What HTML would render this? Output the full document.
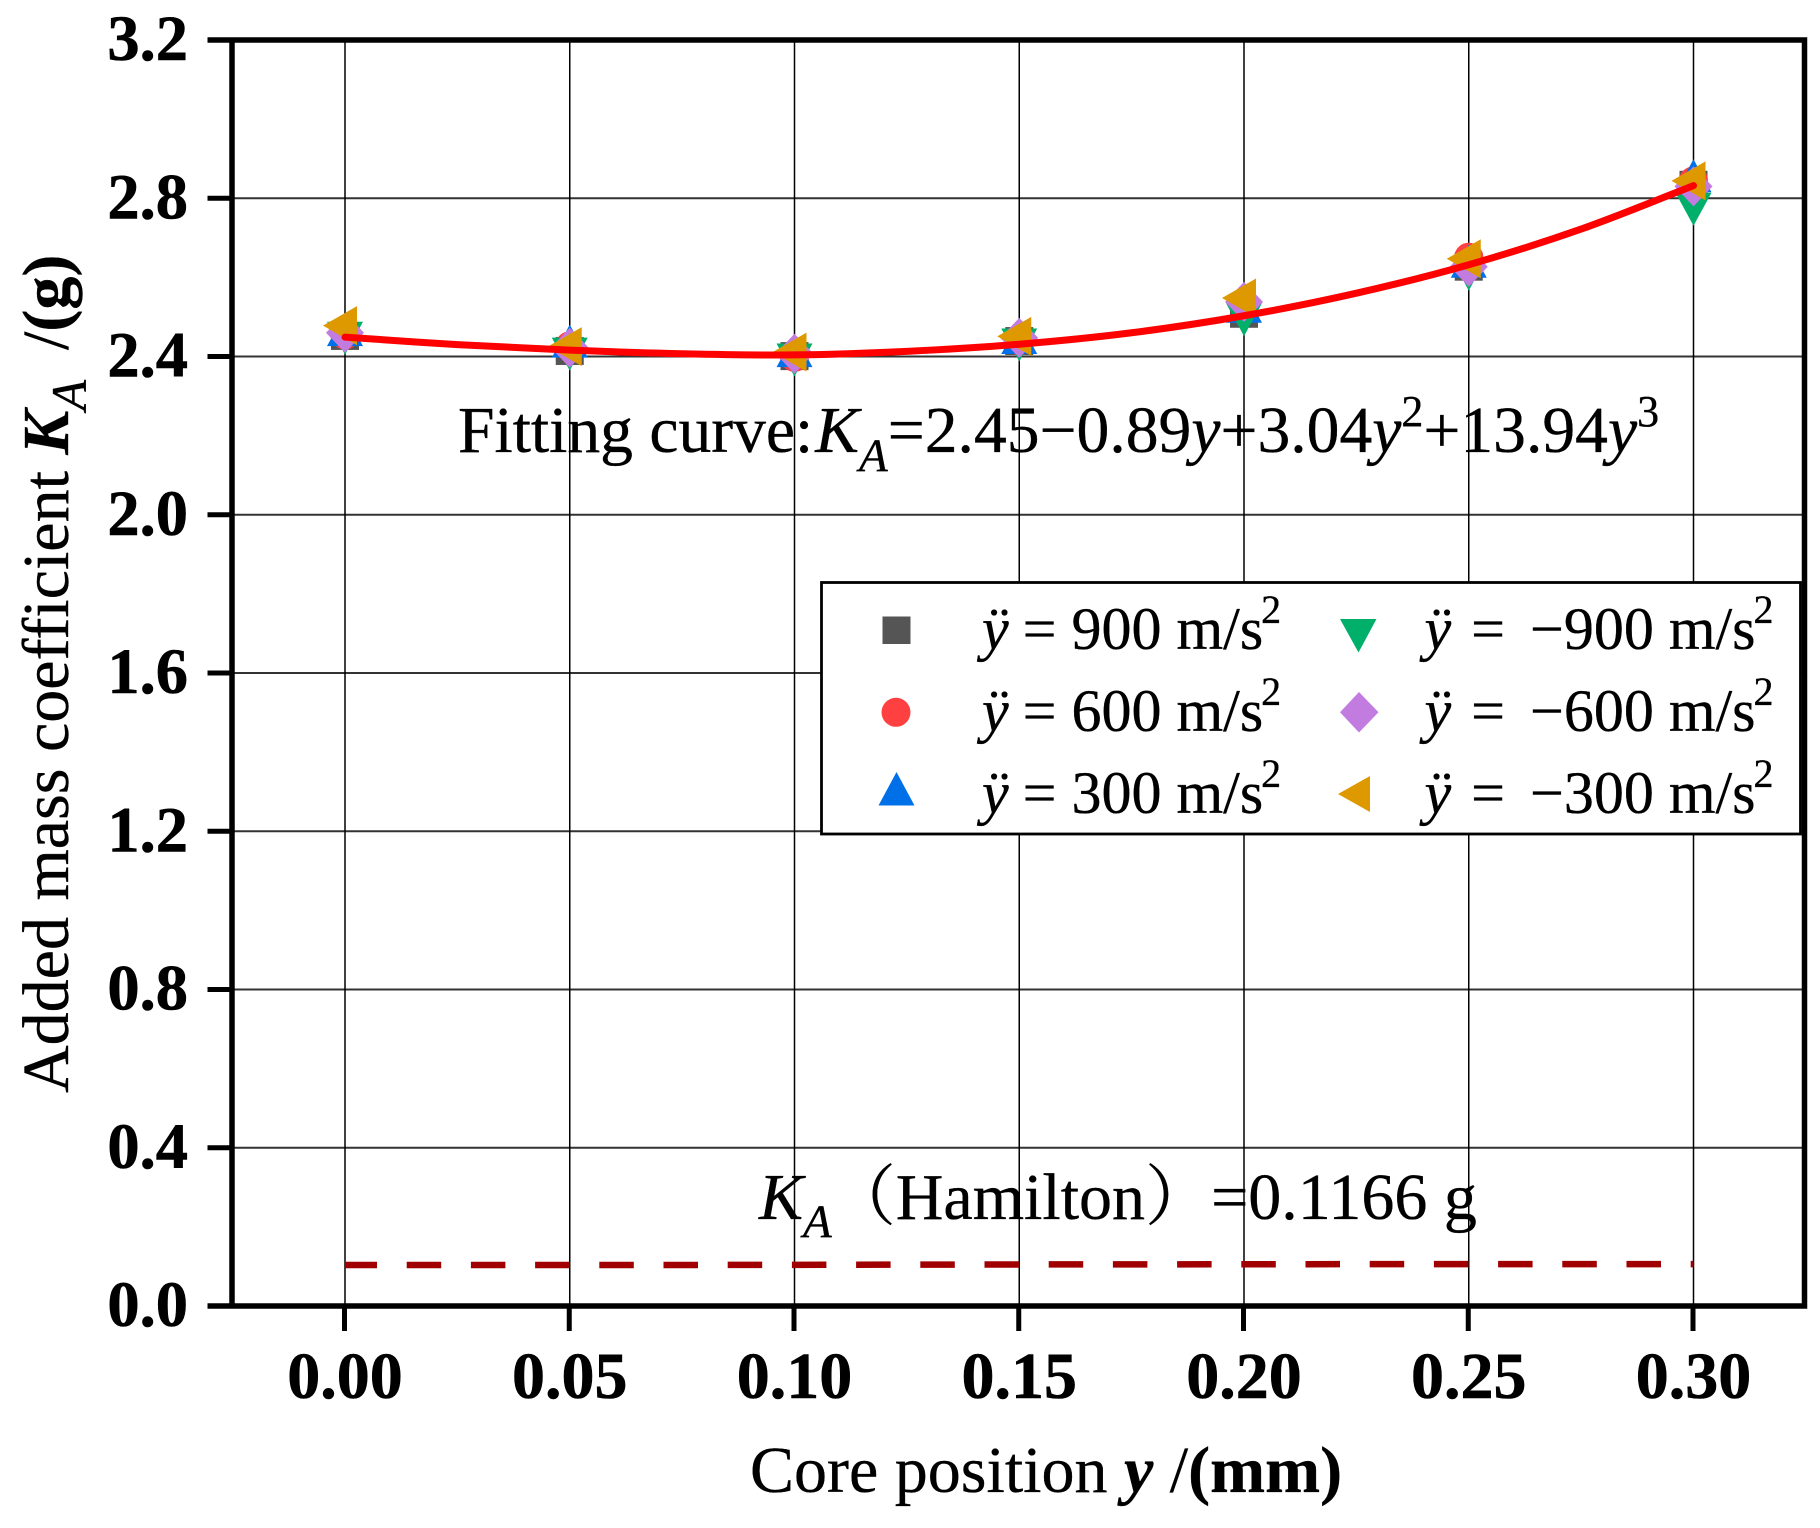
<!DOCTYPE html>
<html lang="en">
<head>
<meta charset="utf-8">
<title>Added mass coefficient chart</title>
<style>
html,body{margin:0;padding:0;background:#fff;}
svg{display:block;}
text{font-family:"Liberation Serif","Noto Serif CJK SC",serif;fill:#000;stroke:#000;stroke-width:.35px;}
.tick{font-size:66px;font-weight:bold;stroke-width:.6px;}
.ytick{font-size:64.5px;}
.it{font-style:italic;}
.bd{font-weight:bold;}
</style>
</head>
<body>
<svg id="chart" xmlns="http://www.w3.org/2000/svg" width="1820" height="1528" viewBox="0 0 1820 1528">
<rect x="0" y="0" width="1820" height="1528" fill="#fff"/>
<g id="grid"></g>
<g id="ref"></g>
<g id="marks"></g>
<g id="fit"></g>
<g id="axes"></g>

<text transform="translate(68,1093) rotate(-90)" font-size="66">Added mass coefficient <tspan class="bd it">K</tspan><tspan class="it" font-size="50" dy="18">A</tspan><tspan dy="-18" dx="-3" xml:space="preserve">  /</tspan><tspan class="bd">(g)</tspan></text>

<text x="750" y="1492" font-size="66">Core position <tspan class="bd it">y</tspan> /<tspan class="bd">(mm)</tspan></text>

<text x="458" y="452" font-size="65.6">Fitting curve:<tspan class="it" dx="2">K</tspan><tspan class="it" font-size="47" dy="19">A</tspan><tspan dy="-19">=2.45−0.89</tspan><tspan class="it">y</tspan>+3.04<tspan class="it">y</tspan><tspan font-size="44" dy="-26">2</tspan><tspan dy="26">+13.94</tspan><tspan class="it">y</tspan><tspan font-size="44" dy="-26">3</tspan></text>

<text x="759" y="1219" font-size="66"><tspan class="it">K</tspan><tspan class="it" font-size="47" dy="18">A</tspan><tspan dy="-18" dx="-2" font-family="Noto Serif CJK SC">（</tspan>Hamilton<tspan font-family="Noto Serif CJK SC">）</tspan>=0.1166 g</text>

<g id="legend">
<rect x="821.5" y="582.5" width="979" height="251.5" fill="#fff" stroke="#000" stroke-width="2.8"/>
<rect x="882.5" y="616.5" width="28" height="27.5" fill="#555"/>
<circle cx="896" cy="712.3" r="14.5" fill="#ff4040"/>
<polygon points="896.5,772 914.5,805.5 878.5,805.5" fill="#0070e8"/>
<polygon points="1340,619 1376.5,619 1358.5,652.5" fill="#00b06a"/>
<polygon points="1359,692 1378.5,712.3 1359,732.5 1340,712.3" fill="#c27ce0"/>
<polygon points="1338,794 1370,776 1370,812" fill="#de9900"/>
<text x="979" y="649" font-size="60"><tspan class="it" dx="3">ÿ</tspan><tspan dx="-1"> = 900 m/s</tspan><tspan font-size="40" dy="-26" dx="-2">2</tspan></text>
<text x="979" y="731" font-size="60"><tspan class="it" dx="3">ÿ</tspan><tspan dx="-1"> = 600 m/s</tspan><tspan font-size="40" dy="-26" dx="-2">2</tspan></text>
<text x="979" y="813" font-size="60"><tspan class="it" dx="3">ÿ</tspan><tspan dx="-1"> = 300 m/s</tspan><tspan font-size="40" dy="-26" dx="-2">2</tspan></text>
<text x="1424.5" y="649" font-size="60" xml:space="preserve"><tspan class="it">ÿ</tspan><tspan dx="5"> =  </tspan><tspan dx="-5">−900 m/s</tspan><tspan font-size="40" dy="-26" dx="-2">2</tspan></text>
<text x="1424.5" y="731" font-size="60" xml:space="preserve"><tspan class="it">ÿ</tspan><tspan dx="5"> =  </tspan><tspan dx="-5">−600 m/s</tspan><tspan font-size="40" dy="-26" dx="-2">2</tspan></text>
<text x="1424.5" y="813" font-size="60" xml:space="preserve"><tspan class="it">ÿ</tspan><tspan dx="5"> =  </tspan><tspan dx="-5">−300 m/s</tspan><tspan font-size="40" dy="-26" dx="-2">2</tspan></text>
</g>
</svg>
<script>
var xCategories = [0.00, 0.05, 0.10, 0.15, 0.20, 0.25, 0.30];
var xTickLabels = ['0.00', '0.05', '0.10', '0.15', '0.20', '0.25', '0.30'];
var yTicks = [0.0, 0.4, 0.8, 1.2, 1.6, 2.0, 2.4, 2.8, 3.2];
var yTickLabels = ['0.0', '0.4', '0.8', '1.2', '1.6', '2.0', '2.4', '2.8', '3.2'];
var seriesPos900 = [2.452, 2.414, 2.401, 2.439, 2.508, 2.627, 2.834];
var seriesPos600 = [2.454, 2.427, 2.398, 2.440, 2.530, 2.651, 2.844];
var seriesPos300 = [2.454, 2.425, 2.401, 2.434, 2.513, 2.627, 2.843];
var seriesNeg900 = [2.460, 2.420, 2.405, 2.443, 2.507, 2.622, 2.786];
var seriesNeg600 = [2.460, 2.422, 2.407, 2.447, 2.538, 2.627, 2.830];
var seriesNeg300 = [2.478, 2.425, 2.411, 2.451, 2.548, 2.647, 2.844];
var fitX = [0, 0.025, 0.05, 0.075, 0.10, 0.125, 0.15, 0.175, 0.20, 0.225, 0.25, 0.275, 0.30];
var fitY = [2.449, 2.430, 2.416, 2.407, 2.404, 2.413, 2.431, 2.460, 2.503, 2.560, 2.632, 2.722, 2.832];
var hamiltonValues = [0.1035, 0.1035, 0.104, 0.105, 0.1055, 0.106, 0.106];

var NS = 'http://www.w3.org/2000/svg';
function xScale(v) { return 345 + v * 4495; }
function yScale(v) { return 1306 - v * 395.625; }
function make(parent, tag, attrs) {
  var el = document.createElementNS(NS, tag);
  for (var k in attrs) { el.setAttribute(k, attrs[k]); }
  parent.appendChild(el);
  return el;
}
var gridG = document.getElementById('grid');
var axesG = document.getElementById('axes');
var marksG = document.getElementById('marks');
var refG = document.getElementById('ref');
var fitG = document.getElementById('fit');

yTicks.forEach(function (t, i) {
  var y = yScale(t);
  if (t > 0 && t < 3.2) {
    var gl = make(gridG, 'line', {x1: 232, x2: 1804, y1: y, y2: y, stroke: '#333', 'stroke-width': 2});
    
    
  }
  var tk = make(axesG, 'line', {x1: 207.5, x2: 232, y1: y, y2: y, stroke: '#000', 'stroke-width': 5});
  
  
  var lb = make(axesG, 'text', {x: 188, y: y + 20, 'text-anchor': 'end', 'class': 'tick ytick'});
  lb.textContent = yTickLabels[i];
  
  
});

xCategories.forEach(function (c, i) {
  var x = xScale(c);
  var gl = make(gridG, 'line', {x1: x, x2: x, y1: 40, y2: 1306, stroke: '#000', 'stroke-width': 1.5});
  
  
  var tk = make(axesG, 'line', {x1: x - 0.5, x2: x - 0.5, y1: 1306, y2: 1331, stroke: '#000', 'stroke-width': 5});
  
  
  var lb = make(axesG, 'text', {x: x, y: 1398, 'text-anchor': 'middle', 'class': 'tick'});
  lb.textContent = xTickLabels[i];
  
  
});

var spines = make(axesG, 'path', {d: 'M207.5 40 H1804.5 V1306 H207.5 M232 40 V1306', fill: 'none', stroke: '#000', 'stroke-width': 5.5});



var hamiltonPts = xCategories.map(function (c, i) { return xScale(c) + ',' + yScale(hamiltonValues[i]); }).join(' ');
var hamiltonLine = make(refG, 'polyline', {points: hamiltonPts, fill: 'none', stroke: '#a00000', 'stroke-width': 6.5, 'stroke-dasharray': '34.5 29.7', 'stroke-dashoffset': 2.5});



function drawSquare(x, y, c) {
  return make(marksG, 'rect', {x: x - 14, y: y - 14, width: 28, height: 28, fill: c});
}
function drawCircle(x, y, c) {
  return make(marksG, 'circle', {cx: x, cy: y, r: 14.5, fill: c});
}
function drawPoly(x, y, offsets, c) {
  var p = offsets.map(function (o) { return (x + o[0]) + ',' + (y + o[1]); }).join(' ');
  return make(marksG, 'polygon', {points: p, fill: c});
}
var shapeUp = [[0, -22], [18, 11], [-18, 11]];
var shapeDown = [[-18, -11], [18, -11], [0, 22]];
var shapeDiamond = [[0, -20], [19, 0], [0, 20], [-19, 0]];
var shapeLeft = [[-22, 0], [12, -19.5], [12, 19.5]];

xCategories.forEach(function (c, i) {
  var x = xScale(c);
  var m;
  m = drawSquare(x, yScale(seriesPos900[i]), '#555');
  
  
  m = drawCircle(x, yScale(seriesPos600[i]), '#ff4040');
  
  
  m = drawPoly(x, yScale(seriesPos300[i]), shapeUp, '#0070e8');
  
  
  m = drawPoly(x, yScale(seriesNeg900[i]), shapeDown, '#00b06a');
  
  
  m = drawPoly(x, yScale(seriesNeg600[i]), shapeDiamond, '#c27ce0');
  
  
  m = drawPoly(x, yScale(seriesNeg300[i]), shapeLeft, '#de9900');
  
  
});

var pts = fitX.map(function (v, i) { return [xScale(v), yScale(fitY[i])]; });
var d = 'M' + pts[0][0] + ' ' + pts[0][1];
for (var i = 0; i < pts.length - 1; i++) {
  var p0 = pts[Math.max(i - 1, 0)], p1 = pts[i], p2 = pts[i + 1], p3 = pts[Math.min(i + 2, pts.length - 1)];
  d += ' C' + (p1[0] + (p2[0] - p0[0]) / 6) + ' ' + (p1[1] + (p2[1] - p0[1]) / 6) + ' ' +
       (p2[0] - (p3[0] - p1[0]) / 6) + ' ' + (p2[1] - (p3[1] - p1[1]) / 6) + ' ' + p2[0] + ' ' + p2[1];
}
var fitPath = make(fitG, 'path', {d: d, fill: 'none', stroke: '#ff0000', 'stroke-width': 7, 'stroke-linecap': 'round'});


</script>
</body>
</html>
